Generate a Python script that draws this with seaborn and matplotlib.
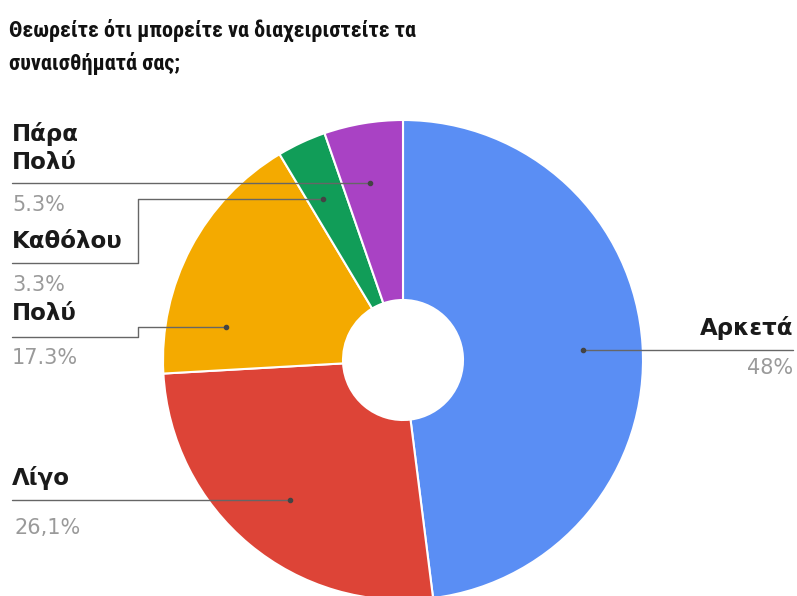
import numpy as np
import matplotlib
matplotlib.use("Agg")
import matplotlib.pyplot as plt
import seaborn as sns

categories = ["Αρκετά", "Λίγο", "Πολύ", "Καθόλου", "Πάρα Πολύ"]
values = [48.0, 26.1, 17.3, 3.3, 5.3]
pct_labels = ["48%", "26,1%", "17.3%", "3.3%", "5.3%"]
label_texts = ["Αρκετά", "Λίγο", "Πολύ", "Καθόλου", "Πάρα\nΠολύ"]
colors = ["#5A8EF4", "#DD4437", "#F4AA00", "#119D58", "#A942C4"]
title_lines = ["Θεωρείτε ότι μπορείτε να διαχειριστείτε τα", "συναισθήματά σας;"]

sns.set_theme(style="white")
plt.rcParams['font.family'] = ['DejaVu Sans']

W, H = 797, 596
fig = plt.figure(figsize=(W / 100, H / 100), dpi=100)
ax = fig.add_axes([0, 0, 1, 1])
cx, cy, R = 403, H - 360, 240
ax.pie(values, colors=colors, startangle=90, counterclock=False,
       center=(cx, cy), radius=R,
       wedgeprops=dict(width=R * 0.75, edgecolor="white", linewidth=1.5))
ax.set_xlim(0, W)
ax.set_ylim(0, H)
ax.set_aspect("equal")
ax.axis("off")

# label layout (pixel rows from the top)
layout = {
    "Αρκετά":    dict(side=1,  name=328, pct=368, line=350, anchor=350),
    "Λίγο":      dict(side=-1, name=478, pct=528, line=500, anchor=500),
    "Πολύ":      dict(side=-1, name=313, pct=358, line=337, anchor=327),
    "Καθόλου":   dict(side=-1, name=242, pct=285, line=263, anchor=199),
    "Πάρα Πολύ": dict(side=-1, name=148, pct=205, line=183, anchor=183),
}
r_anchor = 0.75 * R
elbow_x = 138
left_x, right_x = 12, 793
lc = "#666666"
name_kw = dict(fontsize=16.5, fontweight="bold", color="#1a1a1a",
               family=["DejaVu Sans"], va="center")
pct_kw = dict(fontsize=15, color="#9a9a9a", family=["DejaVu Sans"], va="center")
for cat, txt, pct in zip(categories, label_texts, pct_labels):
    L = layout[cat]
    ay = H - L["anchor"]
    ly = H - L["line"]
    ax_ = cx + L["side"] * np.sqrt(r_anchor ** 2 - (ay - cy) ** 2)
    if L["side"] > 0:
        ax.plot([ax_, right_x], [ay, ay], color=lc, lw=1)
        ax.text(right_x, H - L["name"], txt, ha="right", **name_kw)
        ax.text(right_x, H - L["pct"], pct, ha="right", **pct_kw)
    else:
        if L["anchor"] == L["line"]:
            ax.plot([left_x, ax_], [ly, ly], color=lc, lw=1)
        else:
            ax.plot([left_x, elbow_x, elbow_x, ax_], [ly, ly, ay, ay], color=lc, lw=1)
        ax.text(left_x, H - L["name"], txt, ha="left", linespacing=1.3, **name_kw)
        ax.text(left_x + (3 if "," in pct else 0), H - L["pct"], pct, ha="left", **pct_kw)
    ax.plot([ax_], [ay], "o", color="#444444", ms=3)

title_kw = dict(ha="left", va="baseline", fontsize=16, fontweight="bold",
                color="#111111", family=["Roboto Condensed", "DejaVu Sans"])
ax.text(9, H - 37, title_lines[0], **title_kw)
ax.text(9, H - 70, title_lines[1], **title_kw)

fig.savefig("out.png", dpi=100)
